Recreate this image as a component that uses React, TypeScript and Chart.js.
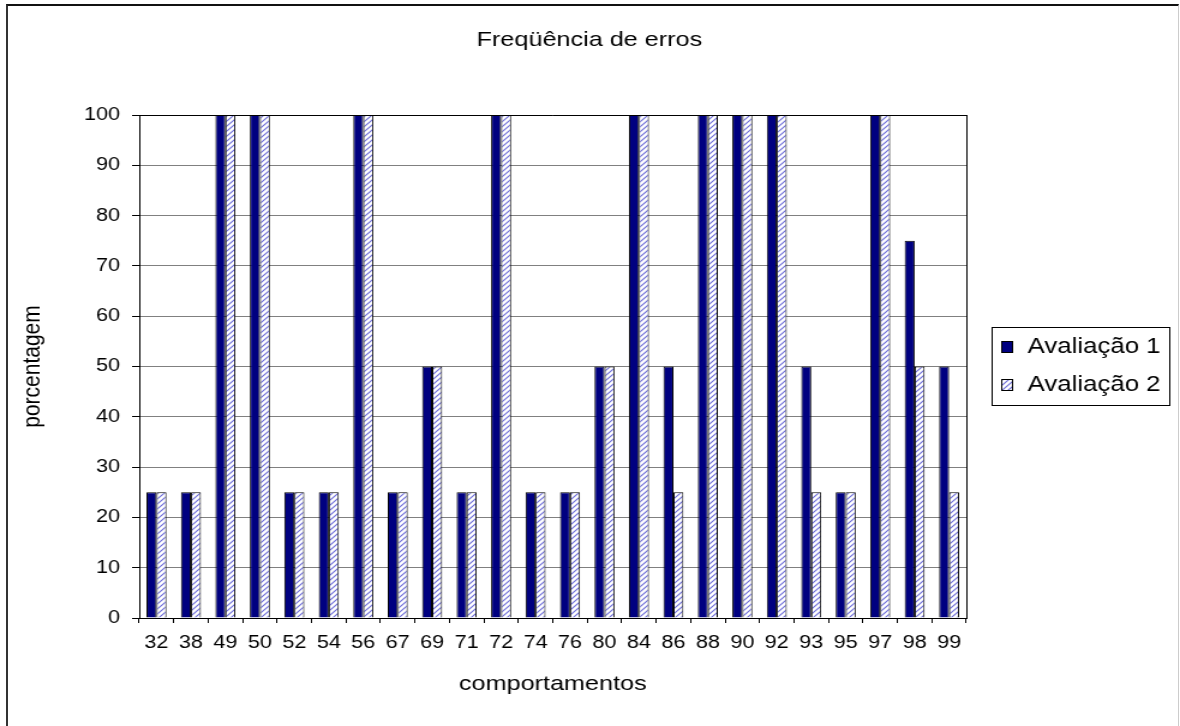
import React, { useEffect, useRef } from "react";
import { Chart, registerables } from "chart.js";

Chart.register(...registerables);

const titleText = "Freqüência de erros";
const xTitle = "comportamentos";
const yTitle = "porcentagem";
const seriesNames = ["Avaliação 1", "Avaliação 2"];
const categories = ["32", "38", "49", "50", "52", "54", "56", "67", "69", "71", "72", "74", "76", "80", "84", "86", "88", "90", "92", "93", "95", "97", "98", "99"];
const avaliacao1 = [25, 25, 100, 100, 25, 25, 100, 25, 50, 25, 100, 25, 25, 50, 100, 50, 100, 100, 100, 50, 25, 100, 75, 50];
const avaliacao2 = [25, 25, 100, 100, 25, 25, 100, 25, 50, 25, 100, 25, 25, 50, 100, 25, 100, 100, 100, 25, 25, 100, 50, 25];
const yTicks = [0, 10, 20, 30, 40, 50, 60, 70, 80, 90, 100];

const FONT = "'Liberation Sans', Arial, sans-serif";
const CW = 983;
const CH = 726;
const SX = 1180 / CW;

function makeStripePattern(ctx: CanvasRenderingContext2D) {
  const size = 5;
  const c = document.createElement("canvas");
  c.width = size;
  c.height = size;
  const p = c.getContext("2d")!;
  p.fillStyle = "#ffffff";
  p.fillRect(0, 0, size, size);
  p.strokeStyle = "#6a6ad8";
  p.lineWidth = 1.1;
  p.beginPath();
  p.moveTo(0, size);
  p.lineTo(size, 0);
  p.moveTo(-1, 1);
  p.lineTo(1, -1);
  p.moveTo(size - 1, size + 1);
  p.lineTo(size + 1, size - 1);
  p.stroke();
  return ctx.createPattern(c, "repeat")!;
}

export default function App() {
  const ref = useRef<HTMLCanvasElement | null>(null);

  useEffect(() => {
    const canvas = ref.current!;
    const ctx = canvas.getContext("2d")!;
    const stripes = makeStripePattern(ctx);
    const fills: any[] = ["#000080", stripes];

    const framePlugin = {
      id: "frameAndLegend",
      afterDatasetsDraw(chart: any) {
        const c = chart.ctx;
        const a = chart.chartArea;
        c.save();
        c.strokeStyle = "#000";
        c.lineWidth = 1;
        c.beginPath();
        c.moveTo(a.left, Math.round(a.top) + 0.5);
        c.lineTo(a.right, Math.round(a.top) + 0.5);
        c.moveTo(Math.round(a.right) + 0.5, a.top);
        c.lineTo(Math.round(a.right) + 0.5, a.bottom);
        c.stroke();
        c.restore();
      },
      afterDraw(chart: any) {
        const c = chart.ctx;
        c.save();
        c.fillStyle = "#000";
        c.font = `21px ${FONT}`;
        c.textAlign = "center";
        c.textBaseline = "alphabetic";
        c.fillText(titleText, 491, 46);
        c.strokeStyle = "#000";
        c.lineWidth = 1;
        c.strokeRect(826.5, 327.5, 148, 78);
        const rows = [353, 391];
        seriesNames.forEach((name, i) => {
          const y = rows[i];
          c.fillStyle = fills[i];
          c.fillRect(834, y - 12, 10, 12);
          c.strokeRect(834.5, y - 11.5, 9, 11);
          c.fillStyle = "#000";
          c.font = `21.5px ${FONT}`;
          c.textAlign = "left";
          c.fillText(name, 856, y);
        });
        c.restore();
      },
    };

    const chart = new Chart(canvas, {
      type: "bar",
      data: {
        labels: categories,
        datasets: [
          {
            label: seriesNames[0],
            data: avaliacao1,
            backgroundColor: fills[0],
            borderColor: "#000",
            borderWidth: 1,
            categoryPercentage: 0.58,
            barPercentage: 1,
          },
          {
            label: seriesNames[1],
            data: avaliacao2,
            backgroundColor: fills[1],
            borderColor: "#000",
            borderWidth: 1,
            categoryPercentage: 0.58,
            barPercentage: 1,
          },
        ],
      },
      options: {
        responsive: false,
        animation: false,
        devicePixelRatio: 1,
        layout: { padding: { left: 0, top: 115, right: CW - 805, bottom: 0 } },
        plugins: {
          legend: { display: false },
          title: { display: false },
          tooltip: { enabled: false },
        },
        scales: {
          x: {
            offset: true,
            grid: {
              display: true,
              drawOnChartArea: false,
              drawTicks: true,
              tickLength: 5,
              color: "#000",
              offset: true,
            },
            border: { display: true, color: "#000", width: 1 },
            ticks: {
              color: "#000",
              font: { family: FONT, size: 18 },
              padding: 9,
              maxRotation: 0,
              autoSkip: false,
            },
            title: {
              display: true,
              text: xTitle,
              color: "#000",
              font: { family: FONT, size: 21 },
              padding: { top: 0, bottom: 29 },
            },
            afterFit(scale: any) {
              scale.height = 108;
            },
          },
          y: {
            min: 0,
            max: 100,
            afterBuildTicks(scale: any) {
              scale.ticks = yTicks.map((v) => ({ value: v }));
            },
            grid: {
              color: "#808080",
              lineWidth: 1,
              tickColor: "#000",
              tickLength: 6,
              drawTicks: true,
            },
            border: { display: true, color: "#000", width: 1 },
            ticks: {
              color: "#000",
              font: { family: FONT, size: 18 },
              padding: 10,
            },
            title: {
              display: true,
              text: yTitle,
              color: "#000",
              font: { family: FONT, size: 21 },
              padding: { top: 15, bottom: 0 },
            },
            afterFit(scale: any) {
              scale.width = 116;
            },
          },
        },
      },
      plugins: [framePlugin],
    });
    return () => chart.destroy();
  }, []);

  return (
    <div style={{ position: "absolute", left: 0, top: 0, width: 1180, height: 726, overflow: "hidden", background: "#fff" }}>
      <div
        style={{
          position: "absolute",
          left: 0,
          top: 0,
          width: CW,
          height: CH,
          transform: `scaleX(${SX})`,
          transformOrigin: "0 0",
        }}
      >
        <canvas ref={ref} width={CW} height={CH} style={{ display: "block" }} />
      </div>
      <div
        style={{
          position: "absolute",
          left: 6,
          top: 4,
          width: 1173,
          height: 760,
          boxSizing: "border-box",
          borderTop: "2px solid #111",
          borderLeft: "2px solid #333",
          borderRight: "1px solid #ccc",
          pointerEvents: "none",
        }}
      />
    </div>
  );
}
